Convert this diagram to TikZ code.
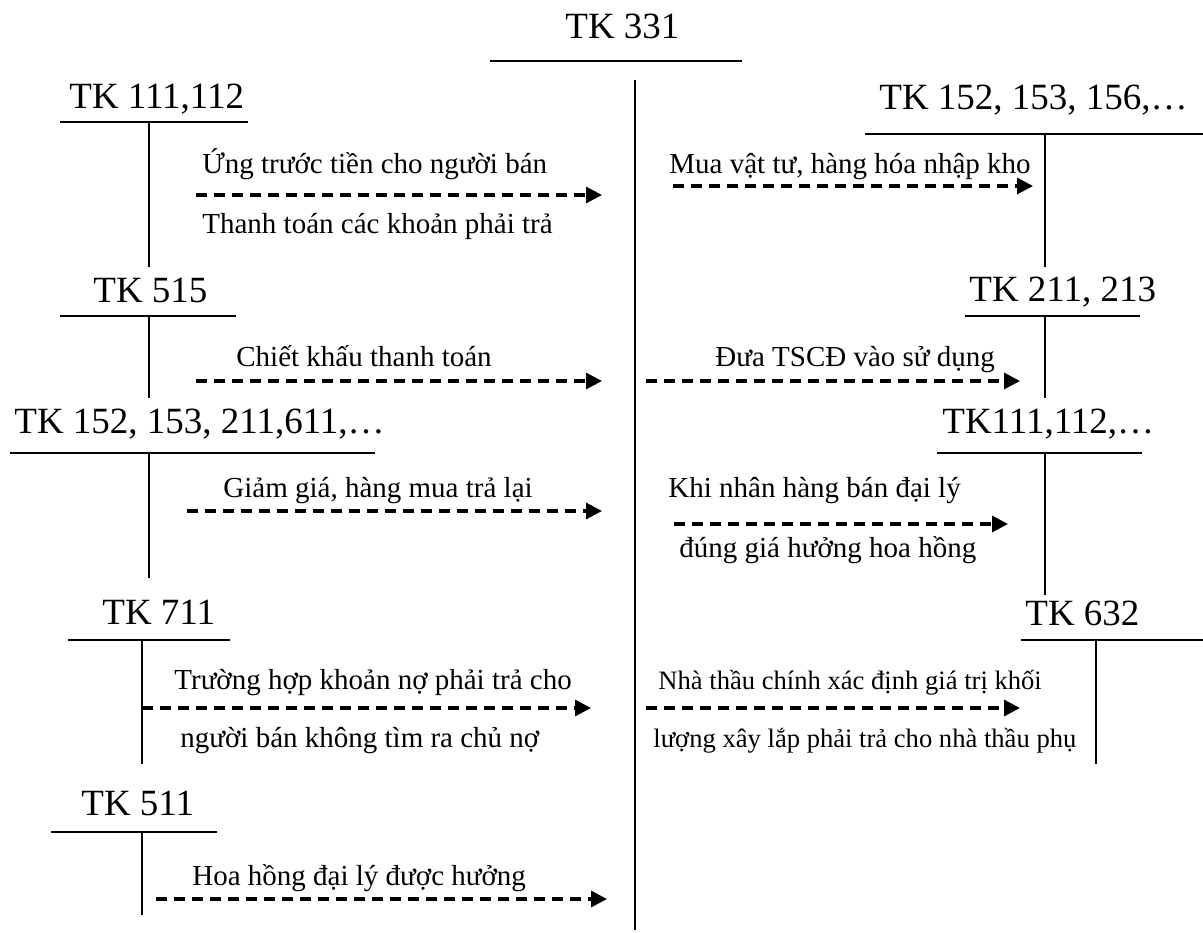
\documentclass[tikz,border=0pt]{standalone}
\usepackage{fontspec}
\setmainfont{Liberation Serif}
\usetikzlibrary{arrows.meta}

\begin{document}
\begin{tikzpicture}[x=0.5pt,y=-0.5pt,inner sep=0pt,
  acc/.style={anchor=base west,font=\fontsize{18.5}{20}\selectfont},
  note/.style={anchor=base west,font=\fontsize{14.5}{16}\selectfont},
  smallnote/.style={anchor=base west,font=\fontsize{13.3}{15}\selectfont},
  tline/.style={line width=1pt},
  flow/.style={line width=1.6pt,dash pattern=on 5.5pt off 3.5pt,
    -{Triangle[length=8pt,width=8pt]}}]
\useasboundingbox (0,0) rectangle (1203,932);

% TK 331 in the middle
\node[acc] (t331) at (565,38) {TK 331};
\draw[tline] (490,61) -- (742,61);
\draw[tline] (635,80) -- (635,930);

% left side
\node[acc] (t111) at (69,108) {TK 111,112};
\draw[tline] (60,122) -- (248,122);
\draw[tline] (149,122) -- (149,267);
\coordinate (s1) at (196,195);
\coordinate (e1) at (602,195);
\draw[flow] (s1) -- (e1);
\node[note] (n1a) at (202,173) {Ứng trước tiền cho người bán};
\node[note] (n1b) at (202,233) {Thanh toán các khoản phải trả};

\node[acc] (t515) at (93,302) {TK 515};
\draw[tline] (60,316) -- (236,316);
\draw[tline] (149,316) -- (149,398);
\coordinate (s2) at (196,381);
\coordinate (e2) at (602,381);
\draw[flow] (s2) -- (e2);
\node[note] (n2) at (236,366) {Chiết khấu thanh toán};

\node[acc] (t152l) at (14,433) {TK 152, 153, 211,611,…};
\draw[tline] (10,453) -- (375,453);
\draw[tline] (149,453) -- (149,578);
\coordinate (s3) at (187,511);
\coordinate (e3) at (602,511);
\draw[flow] (s3) -- (e3);
\node[note] (n3) at (223,497) {Giảm giá, hàng mua trả lại};

\node[acc] (t711) at (102,624) {TK 711};
\draw[tline] (68,640) -- (230,640);
\draw[tline] (142,640) -- (142,764);
\coordinate (s4) at (142,708);
\coordinate (e4) at (591,708);
\draw[flow] (s4) -- (e4);
\node[note] (n4a) at (174,689) {Trường hợp khoản nợ phải trả cho};
\node[note] (n4b) at (180,747) {người bán không tìm ra chủ nợ};

\node[acc] (t511) at (81,815) {TK 511};
\draw[tline] (51,832) -- (217,832);
\draw[tline] (142,832) -- (142,915);
\coordinate (s5) at (156,899);
\coordinate (e5) at (607,899);
\draw[flow] (s5) -- (e5);
\node[note] (n5) at (192,885) {Hoa hồng đại lý được hưởng};

% right side
\node[acc] (t152r) at (879,109) {TK 152, 153, 156,…};
\draw[tline] (865,134) -- (1203,134);
\draw[tline] (1045,134) -- (1045,267);
\coordinate (s6) at (673,186);
\coordinate (e6) at (1033,186);
\draw[flow] (s6) -- (e6);
\node[note] (n6) at (669,173) {Mua vật tư, hàng hóa nhập kho};

\node[acc] (t211) at (969,301) {TK 211, 213};
\draw[tline] (965,316) -- (1140,316);
\draw[tline] (1045,316) -- (1045,398);
\coordinate (s7) at (646,381);
\coordinate (e7) at (1020,381);
\draw[flow] (s7) -- (e7);
\node[note] (n7) at (715,366) {Đưa TSCĐ vào sử dụng};

\node[acc] (t111r) at (942,433) {TK111,112,…};
\draw[tline] (937,453) -- (1142,453);
\draw[tline] (1045,453) -- (1045,595);
\coordinate (s8) at (674,524);
\coordinate (e8) at (1008,524);
\draw[flow] (s8) -- (e8);
\node[note] (n8a) at (668,497) {Khi nhân hàng bán đại lý};
\node[note] (n8b) at (679,557) {đúng giá hưởng hoa hồng};

\node[acc] (t632) at (1025,625) {TK 632};
\draw[tline] (1021,640) -- (1203,640);
\draw[tline] (1096,640) -- (1096,764);
\coordinate (s9) at (646,708);
\coordinate (e9) at (1020,708);
\draw[flow] (s9) -- (e9);
\node[smallnote] (n9a) at (658,689) {Nhà thầu chính xác định giá trị khối};
\node[smallnote] (n9b) at (653,747) {lượng xây lắp phải trả cho nhà thầu phụ};
\end{tikzpicture}
\end{document}
